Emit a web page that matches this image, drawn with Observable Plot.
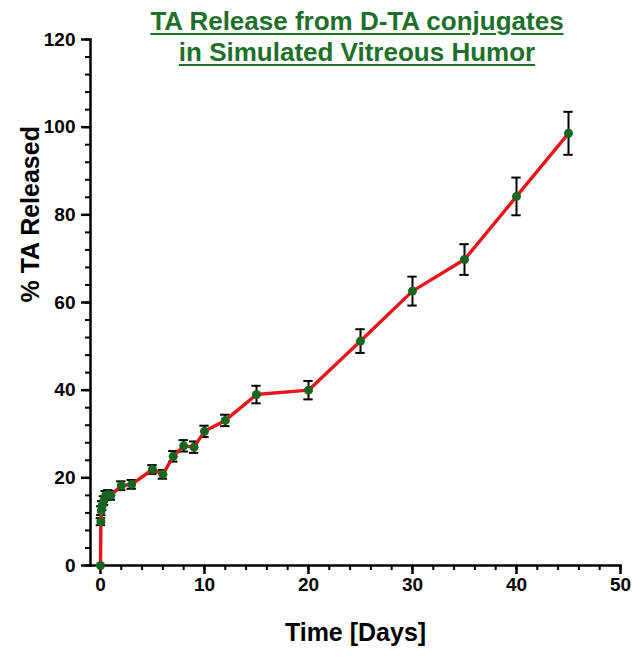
<!DOCTYPE html>
<html>
<head>
<meta charset="utf-8">
<script src="https://cdn.jsdelivr.net/npm/d3@7"></script>
<script src="https://cdn.jsdelivr.net/npm/@observablehq/plot@0.6"></script>
<style>
  body { margin: 0; background: #fff; }
  #wrap { position: relative; width: 632px; height: 658px; font-family: "Liberation Sans", Arial, sans-serif; }
  #title {
    position: absolute; left: 107px; width: 500px; top: 6px;
    text-align: center; color: #1d6f2a; font-weight: bold; font-size: 26px; line-height: 31px;
    white-space: nowrap;
  }
  #title div { text-decoration: underline; text-decoration-thickness: 2px; text-underline-offset: 3px; }
</style>
</head>
<body>
<div id="wrap">
  <div id="chart"></div>
  <div id="title"><div>TA Release from D-TA conjugates</div><div>in Simulated Vitreous Humor</div></div>
</div>
<script>
// Cumulative TA release, mean ± SD
const days     = [0, 0.04, 0.08, 0.17, 0.33, 0.5, 0.75, 1, 2, 3, 5, 6, 7, 8, 9, 10, 12, 15, 20, 25, 30, 35, 40, 45];
const released = [0, 10, 12.5, 13.7, 14.8, 16, 16.2, 16, 18.2, 18.5, 21.9, 20.8, 24.9, 27.3, 27, 30.6, 33.1, 39, 40, 51.2, 62.6, 69.8, 84.2, 98.6];
const sd       = [0, 0.8, 1, 1, 1, 1, 1, 1, 1, 1, 1, 1, 1.2, 1.3, 1.3, 1.3, 1.3, 2, 2.1, 2.7, 3.3, 3.5, 4.3, 4.9];

const xMajor = [0, 10, 20, 30, 40, 50];
const yMajor = [0, 20, 40, 60, 80, 100, 120];

const rows = days.map((t, i) => ({t, v: released[i], e: sd[i]}));
const bars = rows.filter(d => d.e > 0);
const cap = 0.45;

const font = {fontSize: 19, fontWeight: "bold"};

const chart = Plot.plot({
  width: 632,
  height: 658,
  marginLeft: 90,
  marginRight: 12,
  marginTop: 39,
  marginBottom: 93,
  style: {fontFamily: "'Liberation Sans', Arial, sans-serif", color: "#000", background: "#fff"},
  x: {domain: [-0.96, 50]},
  y: {domain: [0, 120]},
  marks: [
    // minor ticks
    Plot.axisX({ticks: d3.range(0, 51, 2), tickSize: 5, text: null, label: null, strokeWidth: 2}),
    Plot.axisY({ticks: d3.range(0, 121, 4), tickSize: 5, text: null, label: null, strokeWidth: 2}),
    // major ticks with labels
    Plot.axisX({ticks: xMajor, tickSize: 9, tickPadding: 3, label: null, strokeWidth: 2.5, ...font}),
    Plot.axisY({ticks: yMajor, tickSize: 9, tickPadding: 6, label: null, strokeWidth: 2.5, ...font}),
    Plot.frame({anchor: "left", strokeWidth: 2.5}),
    Plot.frame({anchor: "bottom", strokeWidth: 2.5}),
    // error bars
    Plot.ruleX(bars, {x: "t", y1: d => d.v - d.e, y2: d => d.v + d.e, stroke: "#000", strokeWidth: 2}),
    Plot.ruleY(bars, {y: d => d.v - d.e, x1: d => d.t - cap, x2: d => d.t + cap, stroke: "#000", strokeWidth: 2}),
    Plot.ruleY(bars, {y: d => d.v + d.e, x1: d => d.t - cap, x2: d => d.t + cap, stroke: "#000", strokeWidth: 2}),
    // release curve
    Plot.line(rows, {x: "t", y: "v", stroke: "#e8141b", strokeWidth: 3.4, curve: "linear"}),
    Plot.dot(rows, {x: "t", y: "v", r: 4.5, fill: "#17661f", stroke: "none"}),
    // axis titles
    Plot.text(["% TA Released"], {frameAnchor: "left", dx: -60, rotate: -90, fontSize: 25, fontWeight: "bold"}),
    Plot.text(["Time [Days]"], {frameAnchor: "bottom", dy: 75, fontSize: 25, fontWeight: "bold"})
  ]
});
document.getElementById("chart").appendChild(chart);
</script>
</body>
</html>
